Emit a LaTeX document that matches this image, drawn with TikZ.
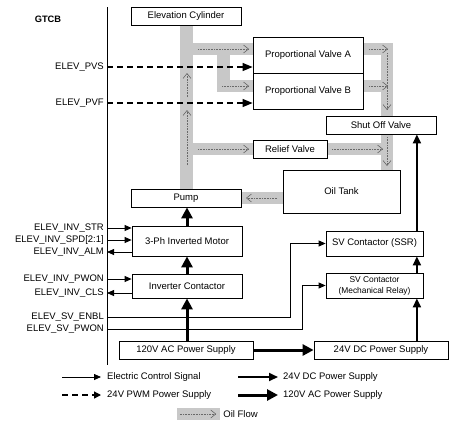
\documentclass[tikz,border=0pt]{standalone}
\usepackage{fontspec}
\setmainfont{Liberation Sans}
\usetikzlibrary{arrows.meta}
\definecolor{pipe}{RGB}{200,200,200}
\definecolor{flow}{RGB}{105,105,105}
\begin{document}
\begin{tikzpicture}[x=1pt,y=-1pt,
 font=\fontsize{9.5}{11}\selectfont,
 box/.style={draw=black, line width=0.8pt, fill=white, inner sep=1pt, align=center},
 lbl/.style={anchor=east, inner sep=3pt},
 sig/.style={line width=0.8pt, -{Triangle[length=7pt,width=6pt]}},
 pwm/.style={line width=1.3pt, dash pattern=on 6pt off 4pt, -{Triangle[length=10pt,width=8pt]}},
 dcline/.style={line width=2pt, -{Triangle[length=9pt,width=8pt]}},
 acline/.style={line width=3pt, -{Triangle[length=11pt,width=11pt]}},
 flowarr/.style={draw=flow, line width=0.6pt, densely dotted, -{Straight Barb[length=5pt,width=8pt]}},
]
\useasboundingbox (0,0) rectangle (457,426);

% oil pipes
\fill[pipe] (180,25) rectangle (193,189);
\fill[pipe] (193,43) rectangle (253,55);
\fill[pipe] (217,55) rectangle (230,92);
\fill[pipe] (230,80) rectangle (253,92);
\fill[pipe] (193,143) rectangle (253,155);
\fill[pipe] (327,143) rectangle (381,155);
\fill[pipe] (363,43) rectangle (393,55);
\fill[pipe] (363,80) rectangle (381,92);
\fill[pipe] (381,55) rectangle (393,116);
\fill[pipe] (381,134) rectangle (393,170);
\fill[pipe] (241,192) rectangle (283,204);

% flow arrows
\draw[flowarr] (187,97) -- (187,73);
\draw[flowarr] (187,165) -- (187,110);
\draw[flowarr] (198,49) -- (249,49);
\draw[flowarr] (222,86) -- (249,86);
\draw[flowarr] (198,149) -- (249,149);
\draw[flowarr] (369,49) -- (388,49);
\draw[flowarr] (369,86) -- (388,86);
\draw[flowarr] (387,53) -- (387,110);
\draw[flowarr] (332,149) -- (383,149);
\draw[flowarr] (387,137) -- (387,166);
\draw[flowarr] (277,198) -- (246,198);

% boxes
\node[box, minimum width=110pt, minimum height=18pt] (cyl) at (186,16) {Elevation Cylinder};
\node[box, minimum width=110pt, minimum height=36pt] (pva) at (308,55) {Proportional Valve A};
\node[box, minimum width=110pt, minimum height=36pt] (pvb) at (308,91) {Proportional Valve B};
\node[box, minimum width=110pt, minimum height=18pt] (sov) at (381,125) {Shut Off Valve};
\node[box, minimum width=74pt, minimum height=18pt] (relief) at (290,149) {Relief Valve};
\node[box, minimum width=117pt, minimum height=43pt] (tank) at (341.5,191.5) {Oil Tank};
\node[box, minimum width=110pt, minimum height=18pt] (pump) at (186,198) {Pump};
\node[box, minimum width=110pt, minimum height=30pt] (motor) at (187,241) {3-Ph Inverted Motor};
\node[box, minimum width=110pt, minimum height=24pt] (invc) at (187,286) {Inverter Contactor};
\node[box, minimum width=97pt, minimum height=25pt] (ssr) at (374.5,243.5) {SV Contactor (SSR)};
\node[box, minimum width=97pt, minimum height=25pt] (mech) at (374.5,285.5) {\fontsize{8.4}{9.5}\selectfont SV Contactor\\\fontsize{8.4}{9.5}\selectfont(Mechanical Relay)};
\node[box, minimum width=134pt, minimum height=18pt] (acps) at (186,350) {120V AC Power Supply};
\node[box, minimum width=134pt, minimum height=18pt] (dcps) at (381,350) {24V DC Power Supply};

% GTCB
\node[font=\bfseries\fontsize{9.3}{11}\selectfont] (gtcb) at (48,19) {GTCB};
\coordinate (gt) at (107,7);
\coordinate (gb) at (107,365);
\draw[line width=0.8pt] (gt) -- (gb);

% labels
\node[lbl] (pvs) at (107,67) {ELEV\_PVS};
\node[lbl] (pvf) at (107,103) {ELEV\_PVF};
\node[lbl] (str) at (107,228) {ELEV\_INV\_STR};
\node[lbl] (spd) at (107,240) {ELEV\_INV\_SPD[2:1]};
\node[lbl] (alm) at (107,252) {ELEV\_INV\_ALM};
\node[lbl] (pwon) at (107,279) {ELEV\_INV\_PWON};
\node[lbl] (cls) at (107,293) {ELEV\_INV\_CLS};
\node[lbl] (enbl) at (107,317) {ELEV\_SV\_ENBL};
\node[lbl] (svpwon) at (107,329) {ELEV\_SV\_PWON};

% signals
\draw[pwm] (pvs.east) -- (pvs.east -| pva.west);
\draw[pwm] (pvf.east) -- (pvf.east -| pvb.west);
\draw[sig] (str.east) -- (str.east -| motor.west);
\draw[sig] (spd.east) -- (spd.east -| motor.west);
\draw[sig] (alm.east -| motor.west) -- (alm.east);
\draw[sig] (pwon.east) -- (pwon.east -| invc.west);
\draw[sig] (cls.east -| invc.west) -- (cls.east);
\draw[sig] (enbl.east) -- ++(183,0) |- (ssr.west);
\draw[sig] (svpwon.east) -- ++(195,0) |- (mech.west);

% power
\draw[acline] (acps.north -| invc.south) -- (invc.south);
\draw[acline] (invc.north) -- (motor.south);
\draw[acline] (motor.north) -- (motor.north |- pump.south);
\draw[acline] (acps.east) -- (dcps.west);
\path ([xshift=-6.5pt]ssr.north east) coordinate (sx);
\draw[dcline] (sx |- dcps.north) -- (sx |- mech.south);
\draw[dcline] (sx |- mech.north) -- (sx |- ssr.south);
\draw[dcline] (sx |- ssr.north) -- (sx |- sov.south);

% legend
\node[anchor=west, inner sep=3pt] (lg1) at (104,377) {Electric Control Signal};
\draw[sig] ([xshift=-42pt]lg1.west) -- ([xshift=-3pt]lg1.west);
\node[anchor=west, inner sep=3pt] (lg2) at (280,377) {24V DC Power Supply};
\draw[dcline] ([xshift=-42pt]lg2.west) -- ([xshift=-2pt]lg2.west);
\node[anchor=west, inner sep=3pt] (lg3) at (104,395) {24V PWM Power Supply};
\draw[line width=1.3pt, dash pattern=on 6pt off 4pt, -{Triangle[length=7pt,width=7pt]}] ([xshift=-42pt]lg3.west) -- ([xshift=-3pt]lg3.west);
\node[anchor=west, inner sep=3pt] (lg4) at (280,395) {120V AC Power Supply};
\draw[acline] ([xshift=-42pt]lg4.west) -- ([xshift=-2pt]lg4.west);
\node[fill=pipe, minimum width=43pt, minimum height=12pt, inner sep=0pt] (lgbar) at (198.5,414) {};
\draw[flowarr] ([xshift=3pt]lgbar.west) -- ([xshift=-4pt]lgbar.east);
\node[anchor=west, inner sep=3pt] (lg5) at (lgbar.east) {Oil Flow};
\end{tikzpicture}
\end{document}
